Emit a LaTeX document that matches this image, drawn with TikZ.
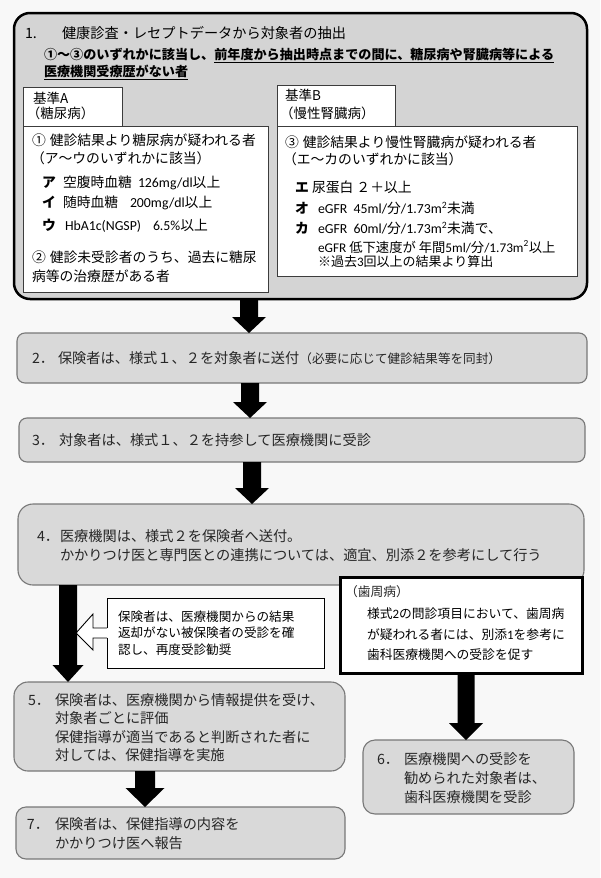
\documentclass[tikz,border=0pt]{standalone}
\usepackage{fontspec}
\setmainfont{Noto Sans CJK JP}
\newfontfamily\calib{Carlito}
\usetikzlibrary{calc}
\definecolor{bg}{RGB}{248,248,248}
\definecolor{fillone}{RGB}{212,212,212}
\definecolor{fillgr}{RGB}{217,217,217}
\definecolor{edgegr}{RGB}{120,120,120}
\definecolor{txt}{RGB}{38,38,38}
\definecolor{edgewh}{RGB}{60,60,60}
\newcommand\fs[1]{\fontsize{#1}{#1}\selectfont}
\newcommand\blockarrow[5]{\fill[black] let \p1=(#1), \p2=(#2) in
  ({\x1-#3},\y1) -- ({\x1+#3},\y1) -- ({\x1+#3},{\y2+#5}) -- ({\x1+#4},{\y2+#5})
  -- (\x1,\y2) -- ({\x1-#4},{\y2+#5}) -- ({\x1-#3},{\y2+#5}) -- cycle;}
\tikzset{
  t/.style={anchor=base west, inner sep=0pt, outer sep=0pt, text=black, font=\fs{13.8}},
  tg/.style={anchor=base west, inner sep=0pt, outer sep=0pt, text=txt, font=\fs{14.2}},
  boxone/.style={draw=black, line width=2.5pt, fill=fillone, rounded corners=16pt, inner sep=0pt, outer sep=0pt},
  grbox/.style={draw=edgegr, line width=1.1pt, fill=fillgr, rounded corners=#1, inner sep=0pt, outer sep=0pt},
  whbox/.style={draw=edgewh, line width=0.9pt, fill=white, inner sep=0pt, outer sep=0pt},
  thickbox/.style={draw=black, line width=3pt, fill=white, inner sep=0pt, outer sep=0pt},
}
\begin{document}
\begin{tikzpicture}[x=1pt,y=-1pt]
\useasboundingbox (0,0) rectangle (600,878);
\fill[bg] (0,0) rectangle (600,878);

% ---------- box 1 ----------
\node[boxone, minimum width=573pt, minimum height=286pt] (b1) at (300.5,156) {};
\node[whbox, minimum width=245pt, minimum height=166pt] (ca) at (145.5,209) {};
\node[whbox, minimum width=99pt, minimum height=39pt] (la) at (72.5,106.5) {};
\node[whbox, minimum width=300pt, minimum height=150pt] (cb) at (427,201) {};
\node[whbox, minimum width=118pt, minimum height=41pt] (lb) at (336,105.5) {};

\node[t, font=\fs{14.2}] (t1n) at (25,38.3) {1.};
\node[t, font=\fs{14.2}] (t1) at (62,38.3) {健康診査・レセプトデータから対象者の抽出};
\node[t, font=\fs{13.1}\bfseries] (t1b) at (44,59.9) {①～③のいずれかに該当し、\underline{前年度から抽出時点までの間に、糖尿病や腎臓病等による}};
\node[t, font=\fs{13.1}\bfseries] (t1c) at (44,76.9) {\underline{医療機関受療歴がない者}};

\node[t, font=\fs{13.5}] (laa) at (33,103.1) {基準A};
\node[t, font=\fs{13.5}] (lab) at (27,118.1) {（糖尿病）};
\node[t, font=\fs{13.5}] (lba) at (285,100.1) {基準B};
\node[t, font=\fs{13.5}] (lbb) at (280,118.1) {（慢性腎臓病）};

\node[t] (a1) at (32,145.3) {①\hspace{4pt}健診結果より糖尿病が疑われる者};
\node[t] (a2) at (31,163.3) {（ア～ウのいずれかに該当）};
\node[t, font=\fs{13.8}\bfseries] (a3k) at (42,187.3) {ア};
\node[t] (a3) at (63,187.3) {空腹時血糖};
\node[t] (a3v) at (138,187.3) {{\calib 126mg/dl}以上};
\node[t, font=\fs{13.8}\bfseries] (a4k) at (42,207.3) {イ};
\node[t] (a4) at (63,207.3) {随時血糖};
\node[t] (a4v) at (130,207.3) {{\calib 200mg/dl}以上};
\node[t, font=\fs{13.8}\bfseries] (a5k) at (42,230.3) {ウ};
\node[t] (a5) at (65,230.3) {\calib HbA1c(NGSP)};
\node[t] (a5v) at (153,230.3) {{\calib 6.5\%}以上};
\node[t] (a6) at (32,262.3) {②\hspace{4pt}健診未受診者のうち、過去に糖尿};
\node[t] (a7) at (32,281.3) {病等の治療歴がある者};

\node[t] (bq1) at (285,147.3) {③\hspace{4pt}健診結果より慢性腎臓病が疑われる者};
\node[t] (bq2) at (283,164.3) {（エ～カのいずれかに該当）};
\node[t, font=\fs{13.8}\bfseries] (bq3k) at (295,192.3) {エ};
\node[t] (bq3) at (312,192.3) {尿蛋白 ２＋以上};
\node[t, font=\fs{13.8}\bfseries] (bq4k) at (295,213.3) {オ};
\node[t] (bq4) at (318,213.3) {{\calib eGFR\ \ 45ml/}分{\calib /1.73m\textsuperscript{2}}未満};
\node[t, font=\fs{13.8}\bfseries] (bq5k) at (295,233.3) {カ};
\node[t] (bq5) at (318,233.3) {{\calib eGFR\ \ 60ml/}分{\calib /1.73m\textsuperscript{2}}未満で、};
\node[t, font=\fs{13.3}] (bq6) at (318,252) {{\calib eGFR }低下速度が 年間{\calib 5ml/}分{\calib /1.73m\textsuperscript{2}}以上};
\node[t, font=\fs{13}] (bq7) at (318,266) {※過去{\calib 3}回以上の結果より算出};

% ---------- boxes 2-4 ----------
\node[grbox=8pt, minimum width=570pt, minimum height=50pt] (b2) at (302,358) {};
\node[tg] (t2n) at (32,363.3) {2．};
\node[tg] (t2) at (58,363.3) {保険者は、様式１、２を対象者に送付{\fs{12.6}（必要に応じて健診結果等を同封）}};

\node[grbox=8pt, minimum width=566pt, minimum height=44pt] (b3) at (302,440) {};
\node[tg] (t3n) at (32,445.3) {3．};
\node[tg] (t3) at (59,445.3) {対象者は、様式１、２を持参して医療機関に受診};

\node[grbox=15pt, minimum width=566pt, minimum height=81pt] (b4) at (301,544.5) {};
\node[tg] (t4n) at (37,541.3) {4．};
\node[tg] (t4a) at (60,541.3) {医療機関は、様式２を保険者へ送付。};
\node[tg] (t4b) at (60,560.3) {かかりつけ医と専門医との連携については、適宜、別添２を参考にして行う};

% ---------- dental box ----------
\node[thickbox, minimum width=242pt, minimum height=96pt] (dn) at (461,625) {};
\node[t, font=\fs{12.8}, text=txt] (td0) at (345,596.9) {（歯周病）};
\node[t, font=\fs{12.8}] (td1) at (367,618.9) {様式{\calib 2}の問診項目において、歯周病};
\node[t, font=\fs{12.8}] (td2) at (367,639.9) {が疑われる者には、別添{\calib 1}を参考に};
\node[t, font=\fs{12.8}] (td3) at (367,659.9) {歯科医療機関への受診を促す};

% ---------- callout ----------
\node[draw=black, line width=0.9pt, fill=white, inner sep=0pt, outer sep=0pt, minimum width=217pt, minimum height=70pt] (cbx) at (215.5,633) {};
\fill[white] ([xshift=-1pt,yshift=4.6pt]cbx.west) rectangle ([xshift=1pt,yshift=-4.6pt]cbx.west);
\filldraw[draw=black, fill=white, line width=0.9pt, line join=miter]
  ([yshift=5pt]cbx.west) -- ++(-14,0) -- ++(0,-14) -- ++(-17,19) -- ++(17,17) -- ++(0,-12) -- ++(14,0);
\node[t, font=\fs{12.6}] (tc1) at (118,621.8) {保険者は、医療機関からの結果};
\node[t, font=\fs{12.6}] (tc2) at (118,637.8) {返却がない被保険者の受診を確};
\node[t, font=\fs{12.6}] (tc3) at (118,654.8) {認し、再度受診勧奨};

% ---------- boxes 5-7 ----------
\node[grbox=14pt, minimum width=331pt, minimum height=89pt] (b5) at (179.5,726.5) {};
\node[tg] (t5n) at (28,705.3) {5．};
\node[tg] (t5a) at (55,705.3) {保険者は、医療機関から情報提供を受け、};
\node[tg] (t5b) at (55,723.3) {対象者ごとに評価};
\node[tg] (t5c) at (55,742.3) {保健指導が適当であると判断された者に};
\node[tg] (t5d) at (55,760.3) {対しては、保健指導を実施};

\node[grbox=12pt, minimum width=211pt, minimum height=74pt] (b6) at (468.5,777) {};
\node[tg] (t6n) at (377,764.3) {6．};
\node[tg] (t6a) at (404,764.3) {医療機関への受診を};
\node[tg] (t6b) at (404,783.3) {勧められた対象者は、};
\node[tg] (t6c) at (404,802.3) {歯科医療機関を受診};

\node[grbox=10pt, minimum width=329pt, minimum height=52pt] (b7) at (180.5,833) {};
\node[tg] (t7n) at (27,829.3) {7．};
\node[tg] (t7a) at (55,829.3) {保険者は、保健指導の内容を};
\node[tg] (t7b) at (55,848.3) {かかりつけ医へ報告};

% ---------- block arrows ----------
\blockarrow{[xshift=-51.5pt]b1.south}{b2.north}{9pt}{17pt}{16pt}
\blockarrow{[xshift=-52pt]b2.south}{b3.north}{9pt}{17pt}{16pt}
\blockarrow{[xshift=-50pt]b3.south}{b4.north}{9pt}{17pt}{16pt}
\blockarrow{[xshift=-233pt]b4.south}{b5.north}{9pt}{15.5pt}{17pt}
\blockarrow{[xshift=-34.5pt]b5.south}{b7.north}{10pt}{19.5pt}{19pt}
\blockarrow{[xshift=5pt]dn.south}{b6.north}{8.5pt}{17pt}{17pt}
\end{tikzpicture}
\end{document}
